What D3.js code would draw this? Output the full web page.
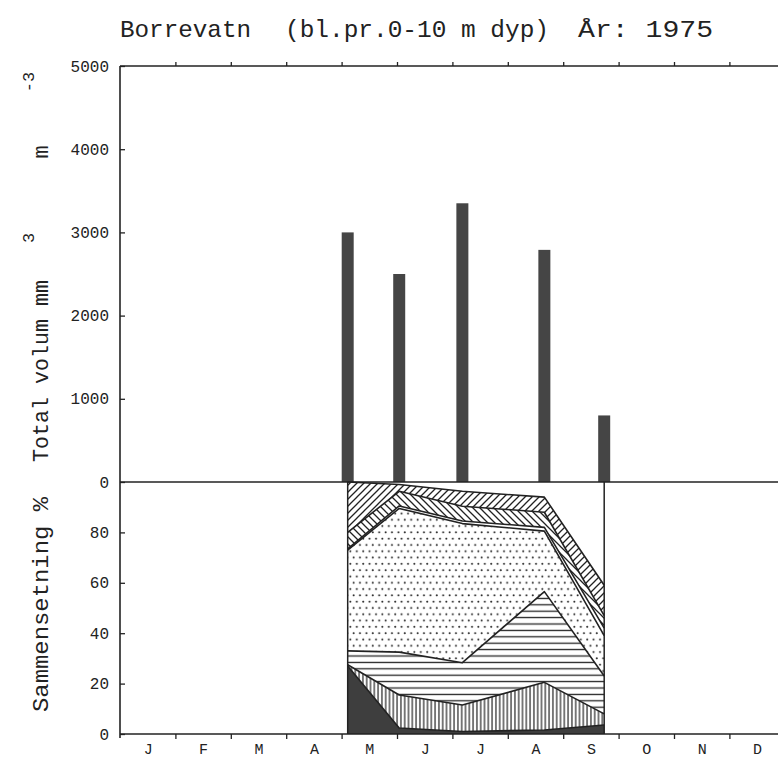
<!DOCTYPE html>
<html>
<head>
<meta charset="utf-8">
<script src="https://cdn.jsdelivr.net/npm/d3@7"></script>
<style>
html,body{margin:0;padding:0;background:#fff;}
svg{display:block;}
text{font-family:"Liberation Mono","DejaVu Sans Mono",monospace;fill:#222;}
</style>
</head>
<body>
<svg id="chart" width="778" height="760"></svg>
<script>
// ---------- data ----------
const monthLabels = ["J","F","M","A","M","J","J","A","S","O","N","D"];
const sampleMonth = [4.11, 5.04, 6.18, 7.66, 8.74];      // sampling dates (month units)
const totalVolume = [3000, 2500, 3350, 2790, 800];        // mm3 m-3
const volTicks = [0, 1000, 2000, 3000, 4000, 5000];
const pctTicks = [0, 20, 40, 60, 80];
// composition (% of total), bottom to top
const groupNames = ["dark", "vert", "horiz", "dots", "blank", "bslash", "slash"];
const darkPct   = [27.0,  2.4,  1.0,  1.6,  3.6];
const vertPct   = [ 0.5, 13.1, 10.5, 18.9,  4.4];
const horizPct  = [ 5.5, 17.0, 16.8, 36.0, 15.0];
const dotsPct   = [40.0, 57.0, 55.2, 24.0, 16.0];
const blankPct  = [ 0.5,  1.0,  1.0,  1.5,  3.0];
const bslashPct = [ 6.5,  5.8,  5.9,  6.0,  5.0];
const slashPct  = [20.0,  2.7,  5.9,  6.0, 12.0];

const rows = sampleMonth.map((m, i) => ({
  m, dark: darkPct[i], vert: vertPct[i], horiz: horizPct[i], dots: dotsPct[i],
  blank: blankPct[i], bslash: bslashPct[i], slash: slashPct[i]
}));

// ---------- layout ----------
const svg = d3.select("#chart");
const ink = "#222";
const x = d3.scaleLinear().domain([0, 12]).range([120, 120 + 12 * 55.4]);
const yVol = d3.scaleLinear().domain([0, 5000]).range([482, 66]);
const yPct = d3.scaleLinear().domain([0, 100]).range([734, 482]);
const xRight = 778;

// ---------- patterns ----------
const defs = svg.append("defs");
function pat(id, w, h, build) {
  const p = defs.append("pattern").attr("id", id).attr("patternUnits", "userSpaceOnUse")
    .attr("width", w).attr("height", h);
  p.append("rect").attr("width", w).attr("height", h).attr("fill", "#fff");
  build(p);
}
pat("p-slash", 7, 7, p => p.append("path").attr("d", "M-1,1 L1,-1 M0,7 L7,0 M6,8 L8,6")
  .attr("stroke", ink).attr("stroke-width", 1.3));
pat("p-bslash", 7, 7, p => p.append("path").attr("d", "M-1,6 L1,8 M0,0 L7,7 M6,-1 L8,1")
  .attr("stroke", ink).attr("stroke-width", 1.3));
pat("p-horiz", 10, 6.4, p => p.append("path").attr("d", "M0,3.2 L10,3.2")
  .attr("stroke", ink).attr("stroke-width", 1.3));
pat("p-vert", 3.8, 10, p => p.append("path").attr("d", "M1.9,0 L1.9,10")
  .attr("stroke", ink).attr("stroke-width", 1.2));
pat("p-dots", 6.4, 12.6, p => {
  p.append("circle").attr("cx", 1.6).attr("cy", 3.15).attr("r", 1.0).attr("fill", ink);
  p.append("circle").attr("cx", 4.8).attr("cy", 9.45).attr("r", 1.0).attr("fill", ink);
});
const fills = {dark: "#3e3e3e", vert: "url(#p-vert)", horiz: "url(#p-horiz)", dots: "url(#p-dots)",
  blank: "#fff", bslash: "url(#p-bslash)", slash: "url(#p-slash)"};

// ---------- title ----------
const tStyle = s => s.attr("font-size", 24).attr("lengthAdjust", "spacingAndGlyphs");
tStyle(svg.append("text").attr("x", 120).attr("y", 37).attr("textLength", 131).text("Borrevatn"));
tStyle(svg.append("text").attr("x", 285).attr("y", 37).attr("textLength", 264).text("(bl.pr.0-10 m dyp)"));
tStyle(svg.append("text").attr("x", 578).attr("y", 37).attr("textLength", 135).text("År: 1975"));

// ---------- top panel: bars ----------
svg.append("g").selectAll("rect").data(totalVolume).join("rect")
  .attr("x", (d, i) => x(sampleMonth[i]) - 6)
  .attr("width", 12)
  .attr("y", d => yVol(d))
  .attr("height", d => yVol(0) - yVol(d))
  .attr("fill", "#454545");

// ---------- bottom panel: composition ----------
const stack = d3.stack().keys(groupNames)(rows);
const area = d3.area().x(d => x(d.data.m)).y0(d => yPct(d[0])).y1(d => yPct(d[1]));
const gComp = svg.append("g");
gComp.selectAll("path.layer").data(stack).join("path").attr("class", "layer")
  .attr("d", area).attr("fill", d => fills[d.key]).attr("stroke", "none");
const line = d3.line().x(d => x(d.data.m)).y(d => yPct(d[1]));
gComp.selectAll("path.bound").data(stack).join("path").attr("class", "bound")
  .attr("d", line).attr("fill", "none").attr("stroke", ink).attr("stroke-width", 1.6)
  .attr("stroke-linejoin", "round");
[sampleMonth[0], sampleMonth[sampleMonth.length - 1]].forEach(m => {
  gComp.append("line").attr("x1", x(m)).attr("x2", x(m)).attr("y1", yPct(0)).attr("y2", yPct(100))
    .attr("stroke", ink).attr("stroke-width", 1.5);
});

// ---------- frame lines ----------
const frame = svg.append("g").attr("stroke", ink).attr("stroke-width", 1.6);
[yVol(5000), yVol(0), yPct(0)].forEach(yy =>
  frame.append("line").attr("x1", 120).attr("x2", xRight).attr("y1", yy).attr("y2", yy));
frame.append("line").attr("x1", 120).attr("x2", 120).attr("y1", yVol(5000)).attr("y2", yPct(0) + 4);

// ---------- axes ----------
function styleAxis(g) {
  g.select(".domain").remove();
  g.selectAll(".tick line").attr("stroke", ink).attr("stroke-width", 1.3);
  g.selectAll(".tick text").attr("font-family", "Liberation Mono, DejaVu Sans Mono, monospace")
    .attr("font-size", 16).attr("fill", ink);
}
svg.append("g").attr("transform", "translate(120,0)")
  .call(d3.axisLeft(yVol).tickValues(volTicks).tickSizeInner(-5).tickSizeOuter(0).tickPadding(11)
    .tickFormat(d3.format("d")))
  .call(styleAxis);
svg.append("g").attr("transform", "translate(120,0)")
  .call(d3.axisLeft(yPct).tickValues(pctTicks).tickSizeInner(-5).tickSizeOuter(0).tickPadding(11)
    .tickFormat(d3.format("d")))
  .call(styleAxis);
const boundaries = d3.range(1, 12);
svg.append("g").attr("transform", `translate(0,${yPct(0)})`)
  .call(d3.axisBottom(x).tickValues(boundaries).tickSizeInner(5).tickSizeOuter(0).tickFormat(""))
  .call(styleAxis);
svg.append("g").attr("transform", `translate(0,${yVol(5000)})`)
  .call(d3.axisTop(x).tickValues(boundaries).tickSizeInner(4).tickSizeOuter(0).tickFormat(""))
  .call(styleAxis);
svg.append("g").attr("transform", `translate(0,${yPct(0)})`)
  .call(d3.axisBottom(x).tickValues(d3.range(12).map(i => i + 0.5)).tickSize(0).tickPadding(9)
    .tickFormat((d, i) => monthLabels[i]))
  .call(styleAxis)
  .call(g => g.selectAll(".tick text").attr("font-size", 15));

// ---------- y titles ----------
function vText(xx, yy, str, size, len, anchor) {
  const t = svg.append("text").attr("transform", `translate(${xx},${yy}) rotate(-90)`)
    .attr("font-size", size).attr("text-anchor", anchor || "start").text(str);
  if (len) t.attr("textLength", len).attr("lengthAdjust", "spacingAndGlyphs");
  return t;
}
vText(48, 462, "Total volum mm", 22, 182);
vText(34, 238, "3", 17, null, "middle");
vText(48, 152, "m", 22, null, "middle");
vText(34, 82, "-3", 17, null, "middle");
vText(48, 712, "Sammensetning %", 22, 215);
</script>
</body>
</html>
